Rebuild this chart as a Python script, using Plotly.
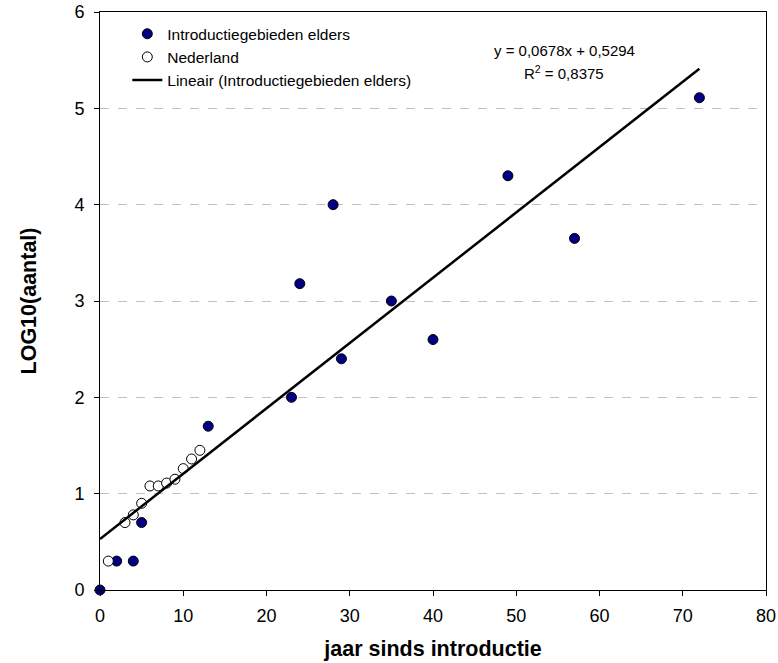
import plotly.graph_objects as go

# Data: introduction areas elsewhere (filled markers)
elders_jaar = [0, 2, 4, 5, 13, 23, 24, 28, 29, 35, 40, 49, 57, 72]
elders_log = [0.00, 0.30, 0.30, 0.70, 1.70, 2.00, 3.18, 4.00, 2.40, 3.00, 2.60, 4.30, 3.65, 5.11]

# Data: Netherlands (open markers)
nl_jaar = [1, 3, 4, 5, 6, 7, 8, 9, 10, 11, 12]
nl_log = [0.30, 0.70, 0.78, 0.90, 1.08, 1.08, 1.11, 1.15, 1.26, 1.36, 1.45]

# Linear trend (from the chart's equation)
slope = 0.0678
intercept = 0.5294
trend_x = [0, 72]
trend_y = [intercept + slope * x for x in trend_x]

x_ticks = [0, 10, 20, 30, 40, 50, 60, 70, 80]
y_ticks = [0, 1, 2, 3, 4, 5, 6]

FONT = "Liberation Sans, Arial, sans-serif"

fig = go.Figure()
fig.add_trace(go.Scatter(
    x=elders_jaar, y=elders_log, mode="markers",
    name="Introductiegebieden elders",
    marker=dict(size=10, color="#000080", line=dict(color="black", width=1)),
    cliponaxis=False,
))
fig.add_trace(go.Scatter(
    x=nl_jaar, y=nl_log, mode="markers",
    name="Nederland",
    marker=dict(size=10, color="white", line=dict(color="black", width=1)),
    cliponaxis=False,
))
fig.add_trace(go.Scatter(
    x=trend_x, y=trend_y, mode="lines",
    name="Lineair (Introductiegebieden elders)",
    line=dict(color="black", width=2.5),
))

fig.add_annotation(
    text="y = 0,0678x + 0,5294", xref="paper", yref="paper",
    x=0.697, y=0.934, showarrow=False, xanchor="center", yanchor="middle",
    font=dict(family=FONT, size=15, color="black"),
)
fig.add_annotation(
    text="R<sup>2</sup> = 0,8375", xref="paper", yref="paper",
    x=0.697, y=0.896, showarrow=False, xanchor="center", yanchor="middle",
    font=dict(family=FONT, size=15, color="black"),
)

fig.update_layout(
    width=778, height=663,
    margin=dict(l=100, r=12, t=12, b=73, autoexpand=False),
    paper_bgcolor="white", plot_bgcolor="white",
    font=dict(family=FONT, color="black"),
    showlegend=True,
    legend=dict(
        x=0.041, y=0.991, xanchor="left", yanchor="top",
        bgcolor="rgba(0,0,0,0)", borderwidth=0,
        font=dict(family=FONT, size=15.5, color="black"),
        tracegroupgap=0,
    ),
)
fig.update_xaxes(
    range=[0, 80], tickvals=x_ticks, ticktext=[str(v) for v in x_ticks],
    showgrid=False, zeroline=False, automargin=False,
    showline=True, linecolor="black", linewidth=1, mirror=True,
    ticks="outside", ticklen=5, tickcolor="black", ticklabelstandoff=4,
    tickfont=dict(family=FONT, size=18, color="black"),
    title=dict(text="<b>jaar sinds introductie</b>", standoff=16,
               font=dict(family=FONT, size=21.5, color="black")),
)
fig.update_yaxes(
    range=[0, 6], tickvals=y_ticks, ticktext=[str(v) for v in y_ticks],
    showgrid=True, gridcolor="#c0c0c0", griddash="dash", gridwidth=1,
    zeroline=False, automargin=False,
    showline=True, linecolor="black", linewidth=1, mirror=True,
    ticks="outside", ticklen=5, tickcolor="black", ticklabelstandoff=6,
    tickfont=dict(family=FONT, size=18, color="black"),
    title=dict(text="<b>LOG10(aantal)</b>", standoff=31,
               font=dict(family=FONT, size=21.5, color="black")),
)

fig.write_html(
    "out.html",
    config={"displayModeBar": False},
    post_script="document.body.style.margin='0';document.body.style.padding='0';",
)
